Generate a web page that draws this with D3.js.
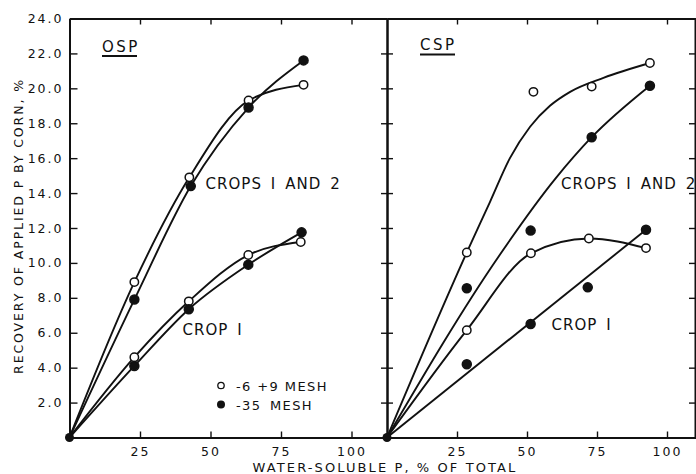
<!DOCTYPE html>
<html>
<head>
<meta charset="utf-8">
<script src="https://cdn.jsdelivr.net/npm/d3@7"></script>
<style>
  body { margin: 0; background: #fff; }
  svg { display: block; }
  text { font-family: "DejaVu Sans", sans-serif; fill: #111; }
  .tick text { font-size: 12.5px; letter-spacing: 2px; }
  .lbl { font-size: 15px; letter-spacing: 1.05px; word-spacing: 3px; }
</style>
</head>
<body>
<div id="chart"></div>
<script>
// tick values
var yTicks = [2, 4, 6, 8, 10, 12, 14, 16, 18, 20, 22, 24];
var xTicks = [25, 50, 75, 100];

// OSP panel (left): x = water-soluble P, y = recovery
var ospC12OpenX = [0, 23, 42.5, 63.5, 83];
var ospC12OpenY = [0, 8.9, 14.9, 19.3, 20.2];
var ospC12FillX = [0, 23, 43, 63.5, 83];
var ospC12FillY = [0, 7.9, 14.4, 18.9, 21.6];
var ospC1OpenX = [0, 23, 42.3, 63.4, 82];
var ospC1OpenY = [0, 4.6, 7.8, 10.45, 11.2];
var ospC1FillX = [0, 23, 42.3, 63.4, 82.3];
var ospC1FillY = [0, 4.1, 7.35, 9.9, 11.75];

// CSP panel (right): measured points
var cspC12OpenX = [28.5, 52.3, 73.1, 93.9];
var cspC12OpenY = [10.6, 19.8, 20.1, 21.45];
var cspC12FillX = [28.5, 51.3, 73.1, 93.9];
var cspC12FillY = [8.55, 11.85, 17.2, 20.15];
var cspC1OpenX = [0, 28.5, 51.4, 72.1, 92.5];
var cspC1OpenY = [0, 6.15, 10.55, 11.4, 10.85];
var cspC1FillX = [28.5, 51.3, 71.7, 92.5];
var cspC1FillY = [4.2, 6.5, 8.6, 11.9];

// CSP fitted curves
var cspC12OpenFitX = [0, 28.5, 36.8, 43.9, 51.1, 58.2, 65.4, 77.3, 93.9];
var cspC12OpenFitY = [0, 10.6, 13.5, 16.0, 17.8, 19.0, 19.8, 20.6, 21.45];
var cspC12FillFitX = [0, 40, 60, 73.1, 93.9];
var cspC12FillFitY = [0, 10.4, 14.8, 17.2, 20.15];
var cspC1FillFitX = [0, 92.5];
var cspC1FillFitY = [0, 11.9];

var W = 696, H = 474;
var svg = d3.select('#chart').append('svg')
  .attr('width', W).attr('height', H);

var y = d3.scaleLinear().domain([0, 24]).range([437.5, 18.5]);
var xL = d3.scaleLinear().domain([0, 25]).range([69.5, 140]);
xL.domain([0, xL.invert(387)]).range([69.5, 387]);
var xR = d3.scaleLinear().domain([0, 25]).range([387, 457]);
xR.domain([0, xR.invert(697)]).range([387, 697]);

function pts(xs, ys) { return xs.map(function(v, i) { return [v, ys[i]]; }); }

function styleAxis(g) {
  g.select('.domain').attr('stroke', '#111').attr('stroke-width', 2);
  g.selectAll('.tick line').attr('stroke', '#111').attr('stroke-width', 1.4);
}

// left axis with labels
svg.append('g').attr('transform', 'translate(69.5,0)')
  .call(d3.axisLeft(y).tickValues(yTicks).tickFormat(d3.format('.1f'))
    .tickSizeInner(-8).tickSizeOuter(0).tickPadding(6))
  .call(styleAxis);

// divider with crossing ticks
svg.append('g').attr('transform', 'translate(387,0)')
  .call(d3.axisLeft(y).tickValues(yTicks).tickFormat('').tickSizeInner(6).tickSizeOuter(0))
  .call(styleAxis);
svg.append('g').attr('transform', 'translate(387,0)')
  .call(d3.axisRight(y).tickValues(yTicks).tickFormat('').tickSizeInner(6).tickSizeOuter(0))
  .call(styleAxis);

// right edge
svg.append('g').attr('transform', 'translate(695,0)')
  .call(d3.axisLeft(y).tickValues(yTicks).tickFormat('').tickSizeInner(6).tickSizeOuter(0))
  .call(styleAxis);

[xL, xR].forEach(function(x) {
  svg.append('g').attr('transform', 'translate(0,437.5)')
    .call(d3.axisBottom(x).tickValues(xTicks).tickSizeInner(-6).tickSizeOuter(0).tickPadding(10))
    .call(styleAxis);
  svg.append('g').attr('transform', 'translate(0,18.5)')
    .call(d3.axisTop(x).tickValues(xTicks).tickFormat('').tickSizeInner(-6).tickSizeOuter(0))
    .call(styleAxis);
});

var mono = d3.line().curve(d3.curveMonotoneX);

function curve(x, data) {
  svg.append('path')
    .attr('d', mono(data.map(function(d) { return [x(d[0]), y(d[1])]; })))
    .attr('fill', 'none').attr('stroke', '#111').attr('stroke-width', 1.9);
}
function marks(x, data, open) {
  svg.selectAll(null).data(data.filter(function(d) { return d[0] > 0; })).enter()
    .append('circle')
    .attr('cx', function(d) { return x(d[0]); })
    .attr('cy', function(d) { return y(d[1]); })
    .attr('r', open ? 4.2 : 4.5)
    .attr('fill', open ? '#fff' : '#111')
    .attr('stroke', '#111').attr('stroke-width', 1.5);
}

// OSP
curve(xL, pts(ospC12OpenX, ospC12OpenY));
curve(xL, pts(ospC12FillX, ospC12FillY));
curve(xL, pts(ospC1OpenX, ospC1OpenY));
curve(xL, pts(ospC1FillX, ospC1FillY));
marks(xL, pts(ospC12OpenX, ospC12OpenY), true);
marks(xL, pts(ospC12FillX, ospC12FillY), false);
marks(xL, pts(ospC1OpenX, ospC1OpenY), true);
marks(xL, pts(ospC1FillX, ospC1FillY), false);

// CSP
curve(xR, pts(cspC12OpenFitX, cspC12OpenFitY));
curve(xR, pts(cspC12FillFitX, cspC12FillFitY));
curve(xR, pts(cspC1OpenX, cspC1OpenY));
curve(xR, pts(cspC1FillFitX, cspC1FillFitY));
marks(xR, pts(cspC12OpenX, cspC12OpenY), true);
marks(xR, pts(cspC12FillX, cspC12FillY), false);
marks(xR, pts(cspC1OpenX, cspC1OpenY), true);
marks(xR, pts(cspC1FillX, cspC1FillY), false);

// origin dots
[xL, xR].forEach(function(x) {
  svg.append('circle').attr('cx', x(0)).attr('cy', y(0)).attr('r', 4.5).attr('fill', '#111');
});

// panel titles
function title(tx, x0, yb, w) {
  svg.append('text').attr('class', 'lbl').attr('x', x0).attr('y', yb).text(tx)
    .style('letter-spacing', '2.5px');
  svg.append('line').attr('x1', x0).attr('x2', x0 + w).attr('y1', yb + 4.5).attr('y2', yb + 4.5)
    .attr('stroke', '#111').attr('stroke-width', 2.2);
}
title('OSP', 102, 51.5, 35);
title('CSP', 420, 50, 35);

svg.append('text').attr('class', 'lbl').attr('x', 205.5).attr('y', 188.5).text('CROPS I AND 2');
svg.append('text').attr('class', 'lbl').attr('x', 561).attr('y', 188.5).text('CROPS I AND 2');
svg.append('text').attr('class', 'lbl').attr('x', 182.5).attr('y', 335).text('CROP I');
svg.append('text').attr('class', 'lbl').attr('x', 551.5).attr('y', 329.5).text('CROP I');

// legend
svg.append('circle').attr('cx', 221).attr('cy', 385.5).attr('r', 3.2)
  .attr('fill', '#fff').attr('stroke', '#111').attr('stroke-width', 1.3);
svg.append('circle').attr('cx', 221).attr('cy', 404.5).attr('r', 4).attr('fill', '#111');
svg.append('text').attr('x', 236).attr('y', 390.5).style('font-size', '13px')
  .style('letter-spacing', '1.4px').text('-6 +9 MESH');
svg.append('text').attr('x', 236).attr('y', 409.5).style('font-size', '13px')
  .style('letter-spacing', '1.4px').style('word-spacing', '3px').text('-35 MESH');

// axis titles
svg.append('text').attr('x', 385).attr('y', 472).attr('text-anchor', 'middle')
  .style('font-size', '13px').style('letter-spacing', '2.1px').text('WATER-SOLUBLE P, % OF TOTAL');
svg.append('text').attr('transform', 'translate(23,226) rotate(-90)').attr('text-anchor', 'middle')
  .style('font-size', '12.5px').style('letter-spacing', '1.9px').text('RECOVERY OF APPLIED P BY CORN, %');
</script>
</body>
</html>
